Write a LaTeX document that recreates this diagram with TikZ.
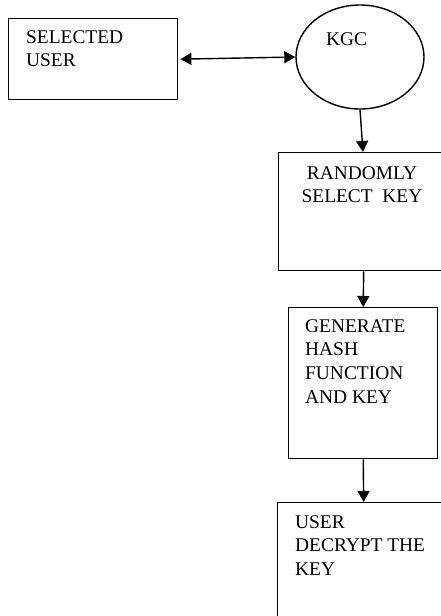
\documentclass[tikz,border=0pt]{standalone}
\usepackage{fontspec}
\setmainfont{Liberation Serif}
\usetikzlibrary{shapes.geometric,arrows.meta}
\tikzset{
  boxstyle/.style={draw, line width=1.4pt, rectangle, inner sep=0pt, anchor=north west},
  txt/.style={anchor=north west, inner sep=0pt, align=left, font=\fontsize{19.4}{23.8}\selectfont},
  arr/.style={line width=1.4pt, -{Triangle[length=11pt,width=12pt]}},
  darr/.style={line width=1.4pt, {Triangle[length=11pt,width=12pt]}-{Triangle[length=11pt,width=12pt]}}
}
\begin{document}
\begin{tikzpicture}[x=1pt,y=-1pt]
\clip (0,0) rectangle (441,616);
\node[boxstyle, minimum width=169pt, minimum height=81pt] (user) at (8,18) {};
\node[draw, line width=1.4pt, ellipse, inner sep=0pt, minimum width=128pt, minimum height=104pt] (kgc) at (360,57) {};
\node[boxstyle, minimum width=170pt, minimum height=118pt] (rand) at (278,152) {};
\node[boxstyle, minimum width=149pt, minimum height=151pt] (gen) at (288,307) {};
\node[boxstyle, minimum width=172pt, minimum height=140pt] (dec) at (277,502) {};

\node[txt] (usertxt) at (26,30) {SELECTED\\USER};
\node[txt] (kgctxt) at (326,32) {KGC};
\node[txt, align=center, anchor=north] (randtxt) at (362,166) {RANDOMLY\\SELECT\ \ KEY};
\node[txt] (gentxt) at (305,319) {GENERATE\\HASH\\FUNCTION\\AND KEY};
\node[txt] (dectxt) at (295,515) {USER\\DECRYPT THE\\KEY};

\draw[darr, shorten <=2pt] (user.east) -- (kgc.west);
\draw[arr] (kgc.south) -- ([xshift=85pt]rand.north west);
\draw[arr] (rand.south) -- (gen.north);
\draw[arr] (gen.south) -- (dec.north);
\end{tikzpicture}
\end{document}
